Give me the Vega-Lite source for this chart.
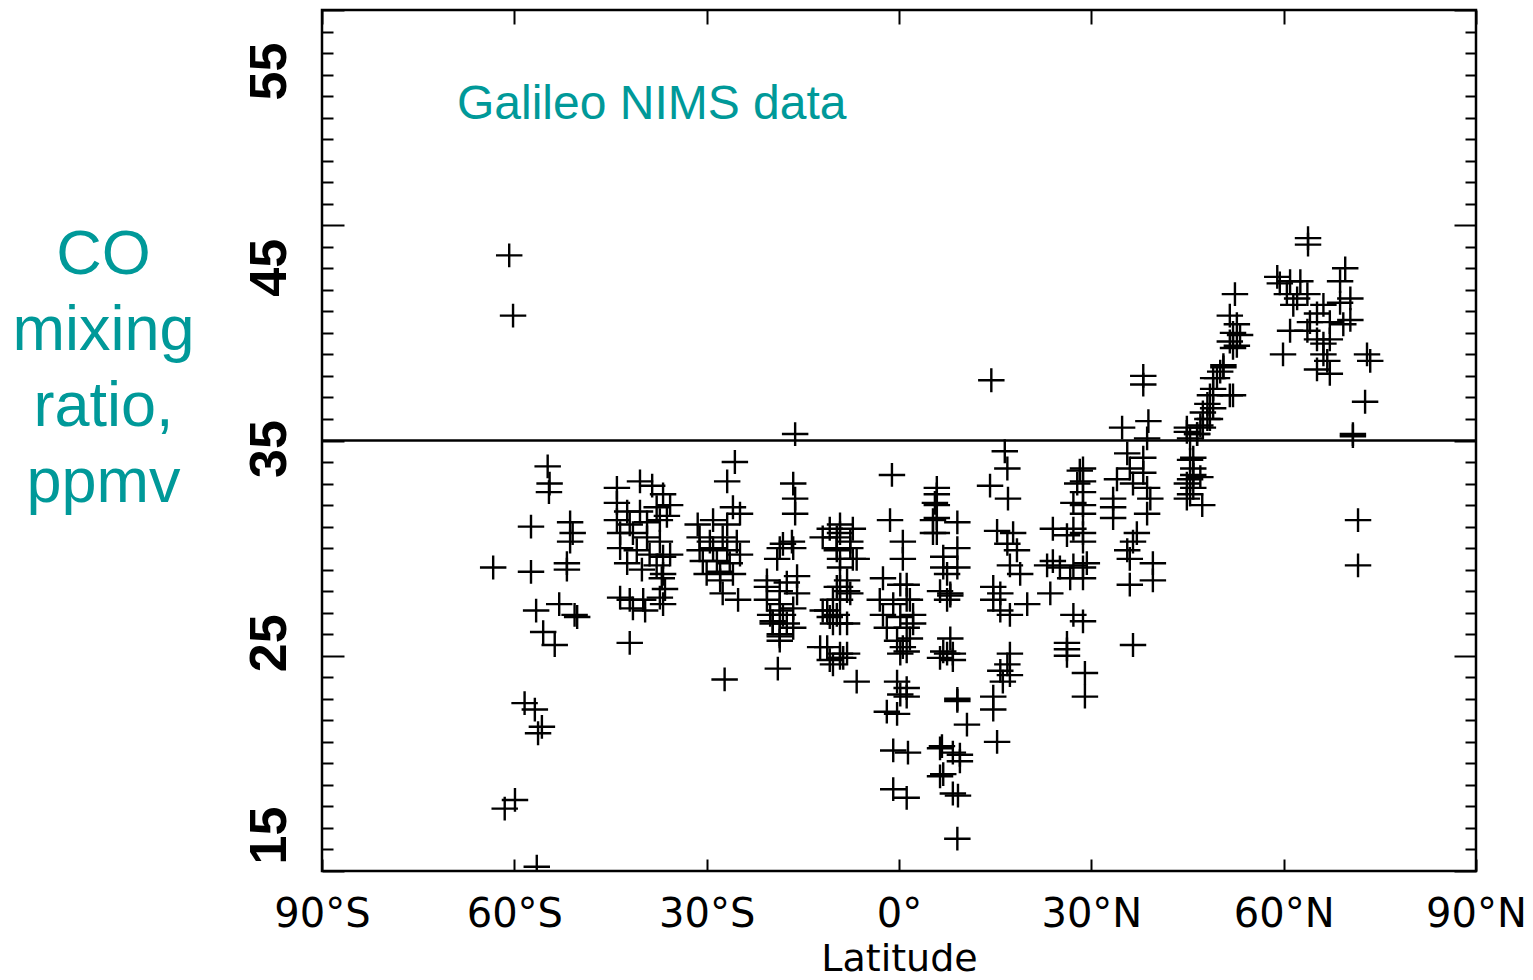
{
  "$schema": "https://vega.github.io/schema/vega-lite/v6.json",
  "autosize": "none",
  "width": 1154,
  "height": 861,
  "padding": {"left": 322, "top": 10, "right": 57, "bottom": 109},
  "background": "white",
  "config": {
    "view": {"stroke": "black", "strokeWidth": 2.5},
    "axis": {"domain": false, "grid": false, "tickColor": "black", "tickWidth": 2, "labelColor": "black", "titleColor": "black"}
  },
  "title": {
    "text": "Galileo NIMS data",
    "anchor": "start",
    "frame": "group",
    "orient": "top",
    "offset": 0,
    "dx": 135,
    "dy": 133,
    "baseline": "top",
    "font": "Liberation Sans",
    "fontSize": 48,
    "fontWeight": "normal",
    "color": "#009999"
  },
  "data": {
    "values": [
      {"lat": -60.8, "co": 43.6}, {"lat": -60.2, "co": 40.8}, {"lat": -54.8, "co": 33.8}, {"lat": -54.5, "co": 33.0},
      {"lat": -54.6, "co": 32.6}, {"lat": -57.4, "co": 31.0}, {"lat": -51.3, "co": 31.2}, {"lat": -50.9, "co": 30.7},
      {"lat": -51.3, "co": 30.3}, {"lat": -63.3, "co": 29.1}, {"lat": -57.4, "co": 28.9}, {"lat": -51.8, "co": 29.3},
      {"lat": -51.8, "co": 29.0}, {"lat": -56.6, "co": 27.1}, {"lat": -53.0, "co": 27.4}, {"lat": -50.6, "co": 26.9},
      {"lat": -50.2, "co": 26.8}, {"lat": -55.5, "co": 26.1}, {"lat": -53.7, "co": 25.5}, {"lat": -58.4, "co": 22.8},
      {"lat": -56.8, "co": 22.5}, {"lat": -55.7, "co": 21.7}, {"lat": -56.3, "co": 21.4}, {"lat": -59.9, "co": 18.3},
      {"lat": -61.5, "co": 17.9}, {"lat": -56.5, "co": 15.2},
      {"lat": -44.0, "co": 32.8}, {"lat": -40.4, "co": 33.1}, {"lat": -38.5, "co": 32.9}, {"lat": -36.8, "co": 32.5},
      {"lat": -44.0, "co": 32.1}, {"lat": -42.4, "co": 31.7}, {"lat": -40.4, "co": 31.7}, {"lat": -37.8, "co": 31.9},
      {"lat": -35.7, "co": 32.0}, {"lat": -44.0, "co": 31.3}, {"lat": -42.0, "co": 31.1}, {"lat": -39.3, "co": 31.2},
      {"lat": -37.3, "co": 31.3}, {"lat": -36.2, "co": 31.5}, {"lat": -43.5, "co": 30.7}, {"lat": -41.5, "co": 30.7},
      {"lat": -39.3, "co": 30.5}, {"lat": -37.3, "co": 30.3}, {"lat": -43.5, "co": 30.0}, {"lat": -40.9, "co": 29.9},
      {"lat": -38.9, "co": 29.7}, {"lat": -36.8, "co": 29.6}, {"lat": -35.7, "co": 29.7}, {"lat": -42.4, "co": 29.3},
      {"lat": -40.1, "co": 29.0}, {"lat": -37.8, "co": 29.2}, {"lat": -36.8, "co": 28.8}, {"lat": -43.5, "co": 27.7},
      {"lat": -42.0, "co": 27.6}, {"lat": -39.9, "co": 27.6}, {"lat": -37.3, "co": 27.7}, {"lat": -36.8, "co": 27.4},
      {"lat": -41.5, "co": 27.2}, {"lat": -39.6, "co": 27.1}, {"lat": -37.0, "co": 28.6}, {"lat": -36.5, "co": 28.1},
      {"lat": -42.0, "co": 25.6},
      {"lat": -25.6, "co": 34.0}, {"lat": -26.8, "co": 33.1}, {"lat": -25.9, "co": 31.9}, {"lat": -24.8, "co": 31.6},
      {"lat": -31.4, "co": 31.1}, {"lat": -29.0, "co": 31.3}, {"lat": -26.8, "co": 31.1}, {"lat": -31.1, "co": 30.5},
      {"lat": -29.5, "co": 30.3}, {"lat": -27.5, "co": 30.5}, {"lat": -25.3, "co": 30.3}, {"lat": -31.1, "co": 29.9},
      {"lat": -29.0, "co": 30.0}, {"lat": -26.8, "co": 29.9}, {"lat": -24.8, "co": 29.7}, {"lat": -30.6, "co": 29.4},
      {"lat": -28.4, "co": 29.4}, {"lat": -26.4, "co": 29.3}, {"lat": -30.0, "co": 28.8}, {"lat": -27.9, "co": 28.9},
      {"lat": -25.9, "co": 28.8}, {"lat": -27.9, "co": 28.5}, {"lat": -27.5, "co": 27.9}, {"lat": -25.1, "co": 27.6},
      {"lat": -27.2, "co": 23.9},
      {"lat": -16.2, "co": 35.3}, {"lat": -16.5, "co": 33.0}, {"lat": -16.2, "co": 32.3}, {"lat": -16.2, "co": 31.6},
      {"lat": -16.7, "co": 30.3}, {"lat": -18.6, "co": 30.0}, {"lat": -19.0, "co": 29.5}, {"lat": -15.9, "co": 28.7},
      {"lat": -17.5, "co": 28.4}, {"lat": -20.6, "co": 28.2}, {"lat": -18.6, "co": 28.0}, {"lat": -15.9, "co": 27.9},
      {"lat": -20.6, "co": 27.6}, {"lat": -18.6, "co": 27.4}, {"lat": -16.5, "co": 27.2}, {"lat": -20.1, "co": 26.9},
      {"lat": -18.1, "co": 26.9}, {"lat": -19.7, "co": 26.5}, {"lat": -17.5, "co": 26.5}, {"lat": -18.6, "co": 26.0},
      {"lat": -18.6, "co": 25.7}, {"lat": -18.9, "co": 24.4}, {"lat": -18.1, "co": 30.2}, {"lat": -16.5, "co": 30.0},
      {"lat": -20.6, "co": 28.5}, {"lat": -18.6, "co": 27.1}, {"lat": -19.7, "co": 26.6}, {"lat": -16.5, "co": 26.3},
      {"lat": -18.6, "co": 25.9},
      {"lat": -9.2, "co": 31.1}, {"lat": -7.2, "co": 30.9}, {"lat": -11.9, "co": 30.5}, {"lat": -9.7, "co": 30.5},
      {"lat": -7.6, "co": 30.3}, {"lat": -9.7, "co": 29.9}, {"lat": -7.6, "co": 30.0}, {"lat": -6.6, "co": 29.5},
      {"lat": -9.2, "co": 29.1}, {"lat": -8.1, "co": 28.5}, {"lat": -9.7, "co": 28.2}, {"lat": -7.6, "co": 27.9},
      {"lat": -9.2, "co": 27.6}, {"lat": -11.2, "co": 27.1}, {"lat": -9.7, "co": 26.9}, {"lat": -8.1, "co": 26.5},
      {"lat": -10.3, "co": 26.5}, {"lat": -11.2, "co": 25.4}, {"lat": -9.2, "co": 25.1}, {"lat": -8.1, "co": 25.1},
      {"lat": -10.8, "co": 24.8}, {"lat": -8.7, "co": 24.9}, {"lat": -6.6, "co": 23.8}, {"lat": -10.8, "co": 30.9},
      {"lat": -9.2, "co": 30.7}, {"lat": -9.7, "co": 30.0}, {"lat": -9.2, "co": 29.5}, {"lat": -7.2, "co": 29.5},
      {"lat": -9.2, "co": 28.2}, {"lat": -8.1, "co": 28.0}, {"lat": -10.3, "co": 27.6}, {"lat": -11.9, "co": 27.1},
      {"lat": -10.8, "co": 26.8}, {"lat": -9.2, "co": 26.5}, {"lat": -12.3, "co": 25.4}, {"lat": -9.2, "co": 24.9},
      {"lat": -10.3, "co": 24.6},
      {"lat": -1.1, "co": 33.4}, {"lat": -1.4, "co": 31.3}, {"lat": 0.6, "co": 30.3}, {"lat": 0.6, "co": 29.5},
      {"lat": -2.5, "co": 28.6}, {"lat": 0.2, "co": 28.3}, {"lat": -3.0, "co": 27.6}, {"lat": -0.9, "co": 27.4},
      {"lat": 1.2, "co": 27.6}, {"lat": -2.5, "co": 26.9}, {"lat": 0.2, "co": 26.8}, {"lat": 2.2, "co": 26.9},
      {"lat": -1.9, "co": 26.3}, {"lat": 1.2, "co": 26.3}, {"lat": -0.3, "co": 25.7}, {"lat": 0.6, "co": 25.4},
      {"lat": 0.2, "co": 25.1}, {"lat": -0.3, "co": 23.8}, {"lat": 0.2, "co": 23.2}, {"lat": -1.9, "co": 22.4},
      {"lat": -0.3, "co": 22.3}, {"lat": -0.9, "co": 20.6}, {"lat": 1.4, "co": 20.5}, {"lat": -0.9, "co": 18.8},
      {"lat": 1.2, "co": 18.4}, {"lat": 1.2, "co": 28.3}, {"lat": 1.7, "co": 27.6}, {"lat": 2.2, "co": 26.5},
      {"lat": 1.7, "co": 25.8}, {"lat": 1.2, "co": 25.2}, {"lat": 1.2, "co": 23.5}, {"lat": 1.2, "co": 23.1},
      {"lat": 5.9, "co": 32.0}, {"lat": 5.3, "co": 31.3}, {"lat": 5.9, "co": 30.7}, {"lat": 6.9, "co": 29.1},
      {"lat": 8.0, "co": 27.9}, {"lat": 7.5, "co": 27.6}, {"lat": 6.9, "co": 25.2}, {"lat": 8.4, "co": 25.1},
      {"lat": 9.1, "co": 22.9}, {"lat": 6.4, "co": 20.7}, {"lat": 8.4, "co": 20.5}, {"lat": 6.4, "co": 19.4},
      {"lat": 8.4, "co": 18.6}, {"lat": 9.1, "co": 16.5}, {"lat": 5.9, "co": 32.8}, {"lat": 5.9, "co": 32.5},
      {"lat": 5.6, "co": 32.1}, {"lat": 5.9, "co": 31.4}, {"lat": 5.3, "co": 30.7}, {"lat": 9.1, "co": 31.2},
      {"lat": 9.1, "co": 30.0}, {"lat": 6.9, "co": 29.6}, {"lat": 9.1, "co": 29.1}, {"lat": 7.5, "co": 28.8},
      {"lat": 6.4, "co": 28.0}, {"lat": 8.0, "co": 27.8}, {"lat": 8.0, "co": 25.8}, {"lat": 7.5, "co": 25.1},
      {"lat": 8.4, "co": 24.8}, {"lat": 6.4, "co": 24.9}, {"lat": 9.1, "co": 23.0}, {"lat": 10.6, "co": 21.8},
      {"lat": 6.7, "co": 20.8}, {"lat": 9.5, "co": 20.4}, {"lat": 9.5, "co": 20.1}, {"lat": 6.9, "co": 19.5},
      {"lat": 9.2, "co": 18.5},
      {"lat": 14.4, "co": 37.8}, {"lat": 16.5, "co": 34.5}, {"lat": 16.9, "co": 33.7}, {"lat": 14.2, "co": 32.9},
      {"lat": 17.0, "co": 32.3}, {"lat": 15.3, "co": 30.8}, {"lat": 17.8, "co": 30.7}, {"lat": 16.9, "co": 30.2},
      {"lat": 18.4, "co": 29.9}, {"lat": 17.3, "co": 29.2}, {"lat": 18.9, "co": 28.8}, {"lat": 14.7, "co": 28.2},
      {"lat": 15.8, "co": 27.9}, {"lat": 14.7, "co": 27.6}, {"lat": 15.8, "co": 27.1}, {"lat": 17.3, "co": 26.9},
      {"lat": 20.0, "co": 27.4}, {"lat": 17.3, "co": 25.1}, {"lat": 16.9, "co": 24.6}, {"lat": 15.8, "co": 24.3},
      {"lat": 17.3, "co": 24.1}, {"lat": 16.2, "co": 23.8}, {"lat": 14.7, "co": 23.1}, {"lat": 14.7, "co": 22.5},
      {"lat": 15.3, "co": 21.0},
      {"lat": 24.0, "co": 30.9}, {"lat": 24.0, "co": 29.4}, {"lat": 25.1, "co": 29.1}, {"lat": 23.1, "co": 29.2},
      {"lat": 27.2, "co": 29.2}, {"lat": 28.7, "co": 29.1}, {"lat": 26.7, "co": 28.6}, {"lat": 23.6, "co": 27.9},
      {"lat": 28.2, "co": 33.6}, {"lat": 27.8, "co": 33.0}, {"lat": 28.7, "co": 32.6}, {"lat": 27.2, "co": 32.1},
      {"lat": 28.7, "co": 31.6}, {"lat": 27.2, "co": 30.9}, {"lat": 26.2, "co": 30.6}, {"lat": 27.2, "co": 26.9},
      {"lat": 28.7, "co": 26.6}, {"lat": 26.2, "co": 25.6}, {"lat": 26.2, "co": 25.3}, {"lat": 26.2, "co": 25.0},
      {"lat": 29.0, "co": 24.2}, {"lat": 29.0, "co": 23.1}, {"lat": 28.7, "co": 33.7}, {"lat": 28.7, "co": 33.1},
      {"lat": 28.7, "co": 32.0}, {"lat": 28.7, "co": 30.7}, {"lat": 28.7, "co": 30.3}, {"lat": 29.3, "co": 29.3},
      {"lat": 28.7, "co": 28.6},
      {"lat": 38.1, "co": 38.0}, {"lat": 38.1, "co": 37.6}, {"lat": 34.8, "co": 35.6}, {"lat": 38.9, "co": 35.9},
      {"lat": 38.7, "co": 35.1}, {"lat": 35.6, "co": 34.4}, {"lat": 38.1, "co": 34.2}, {"lat": 36.0, "co": 33.7},
      {"lat": 38.1, "co": 33.5}, {"lat": 34.0, "co": 33.2}, {"lat": 36.5, "co": 33.0}, {"lat": 38.7, "co": 32.8},
      {"lat": 33.4, "co": 32.3}, {"lat": 39.2, "co": 32.3}, {"lat": 33.4, "co": 31.9}, {"lat": 38.7, "co": 31.6},
      {"lat": 33.4, "co": 31.4}, {"lat": 37.1, "co": 30.7}, {"lat": 36.5, "co": 30.3}, {"lat": 35.6, "co": 29.9},
      {"lat": 36.0, "co": 29.5}, {"lat": 39.6, "co": 29.3}, {"lat": 36.0, "co": 28.3}, {"lat": 39.6, "co": 28.5},
      {"lat": 36.5, "co": 25.5},
      {"lat": 44.9, "co": 35.4}, {"lat": 46.5, "co": 35.3}, {"lat": 45.4, "co": 35.1}, {"lat": 52.7, "co": 39.4},
      {"lat": 50.6, "co": 38.4}, {"lat": 49.0, "co": 37.9}, {"lat": 51.6, "co": 37.1}, {"lat": 49.0, "co": 36.5},
      {"lat": 48.1, "co": 36.0}, {"lat": 47.4, "co": 35.6}, {"lat": 45.4, "co": 34.1}, {"lat": 45.9, "co": 33.7},
      {"lat": 45.9, "co": 33.4}, {"lat": 44.9, "co": 33.0}, {"lat": 45.4, "co": 32.5}, {"lat": 47.3, "co": 32.0},
      {"lat": 52.4, "co": 41.8}, {"lat": 51.6, "co": 40.8}, {"lat": 52.7, "co": 40.4}, {"lat": 52.1, "co": 40.0},
      {"lat": 53.2, "co": 39.9}, {"lat": 51.6, "co": 39.6}, {"lat": 52.1, "co": 39.3}, {"lat": 50.6, "co": 38.5},
      {"lat": 50.1, "co": 38.2}, {"lat": 49.6, "co": 37.9}, {"lat": 49.0, "co": 37.4}, {"lat": 48.5, "co": 37.1},
      {"lat": 52.1, "co": 37.1}, {"lat": 48.1, "co": 36.7}, {"lat": 47.4, "co": 36.3}, {"lat": 48.5, "co": 36.0},
      {"lat": 47.0, "co": 35.7}, {"lat": 44.9, "co": 35.6}, {"lat": 46.5, "co": 35.3}, {"lat": 45.9, "co": 34.2},
      {"lat": 45.4, "co": 33.2}, {"lat": 47.0, "co": 33.3}, {"lat": 45.9, "co": 32.8}, {"lat": 44.9, "co": 32.3},
      {"lat": 63.8, "co": 44.4}, {"lat": 63.8, "co": 44.1}, {"lat": 61.0, "co": 42.4}, {"lat": 59.4, "co": 42.3},
      {"lat": 62.6, "co": 42.4}, {"lat": 60.5, "co": 41.8}, {"lat": 62.1, "co": 41.6}, {"lat": 63.7, "co": 41.8},
      {"lat": 61.5, "co": 41.3}, {"lat": 66.2, "co": 41.3}, {"lat": 65.2, "co": 40.9}, {"lat": 64.1, "co": 40.5},
      {"lat": 67.2, "co": 40.5}, {"lat": 61.0, "co": 40.1}, {"lat": 63.7, "co": 40.1}, {"lat": 65.2, "co": 39.7},
      {"lat": 67.2, "co": 39.7}, {"lat": 69.3, "co": 40.4}, {"lat": 70.4, "co": 40.6}, {"lat": 59.9, "co": 39.0},
      {"lat": 66.2, "co": 39.5}, {"lat": 66.2, "co": 39.0}, {"lat": 65.2, "co": 38.3}, {"lat": 67.2, "co": 38.1},
      {"lat": 66.8, "co": 38.7}, {"lat": 69.6, "co": 43.0}, {"lat": 68.8, "co": 42.4}, {"lat": 70.4, "co": 41.6},
      {"lat": 59.0, "co": 42.6}, {"lat": 68.8, "co": 41.4}, {"lat": 73.0, "co": 39.0}, {"lat": 73.5, "co": 38.7},
      {"lat": 72.7, "co": 36.8}, {"lat": 70.8, "co": 35.3}, {"lat": 70.8, "co": 35.2}, {"lat": 71.6, "co": 31.3},
      {"lat": 71.6, "co": 29.2}
    ]
  },
  "layer": [
    {
      "mark": {"type": "point", "shape": "M-1,0H1M0,-0.9V0.9", "size": 700, "filled": false, "stroke": "black", "strokeWidth": 2.4, "opacity": 1, "clip": true},
      "encoding": {
        "x": {
          "field": "lat", "type": "quantitative",
          "scale": {"domain": [-90, 90], "nice": false, "zero": false},
          "axis": {
            "orient": "bottom",
            "values": [-90, -60, -30, 0, 30, 60, 90],
            "tickSize": -12,
            "labelExpr": "datum.value == 0 ? '0°' : (datum.value < 0 ? (-datum.value) + '°S' : datum.value + '°N')",
            "labelFont": "DejaVu Sans",
            "labelFontSize": 40,
            "labelPadding": 35,
            "labelFlush": false,
            "labelOverlap": false,
            "title": "Latitude",
            "titleFont": "DejaVu Sans",
            "titleFontSize": 38,
            "titleFontWeight": "normal",
            "titlePadding": 6
          }
        },
        "y": {
          "field": "co", "type": "quantitative",
          "scale": {"domain": [15, 55], "nice": false, "zero": false},
          "axis": {
            "orient": "left",
            "values": [15,16,17,18,19,20,21,22,23,24,25,26,27,28,29,30,31,32,33,34,35,36,37,38,39,40,41,42,43,44,45,46,47,48,49,50,51,52,53,54,55],
            "tickSize": {"condition": {"test": "datum.value % 10 === 5", "value": -22}, "value": -11},
            "labelExpr": "datum.value % 10 === 5 ? datum.label : ''",
            "labelAngle": 270,
            "labelAlign": "center",
            "labelBaseline": "bottom",
            "labelFont": "Liberation Sans",
            "labelFontWeight": "bold",
            "labelFontSize": 52,
            "labelPadding": 48,
            "labelOffset": {"condition": [
              {"test": "datum.value == 55", "value": 61},
              {"test": "datum.value == 45", "value": 42},
              {"test": "datum.value == 35", "value": 8},
              {"test": "datum.value == 25", "value": -13}
            ], "value": -36},
            "labelOverlap": false,
            "labelFlush": false,
            "labelBound": false,
            "title": ["CO", "mixing", "ratio,", "ppmv"],
            "titleAngle": 0,
            "titleX": -219,
            "titleY": 213,
            "titleAlign": "center",
            "titleBaseline": "top",
            "titleFont": "Liberation Sans",
            "titleFontSize": 63,
            "titleFontWeight": "normal",
            "titleColor": "#009999",
            "titleLineHeight": 76
          }
        }
      }
    },
    {
      "data": {"values": [{}]},
      "mark": {"type": "rule", "stroke": "black", "strokeWidth": 2.5},
      "encoding": {
        "y": {
          "datum": 35, "type": "quantitative",
          "axis": {
            "orient": "right",
            "values": [15,16,17,18,19,20,21,22,23,24,25,26,27,28,29,30,31,32,33,34,35,36,37,38,39,40,41,42,43,44,45,46,47,48,49,50,51,52,53,54,55],
            "tickSize": {"condition": {"test": "datum.value % 10 === 5", "value": -22}, "value": -11},
            "labels": false,
            "title": null
          }
        }
      }
    },
    {
      "mark": {"type": "point", "opacity": 0},
      "encoding": {
        "x": {
          "field": "lat", "type": "quantitative",
          "axis": {"orient": "top", "values": [-90, -60, -30, 0, 30, 60, 90], "tickSize": -14, "labels": false, "title": null}
        },
        "y": {"field": "co", "type": "quantitative", "axis": null}
      }
    }
  ],
  "resolve": {"axis": {"x": "independent", "y": "independent"}}
}
